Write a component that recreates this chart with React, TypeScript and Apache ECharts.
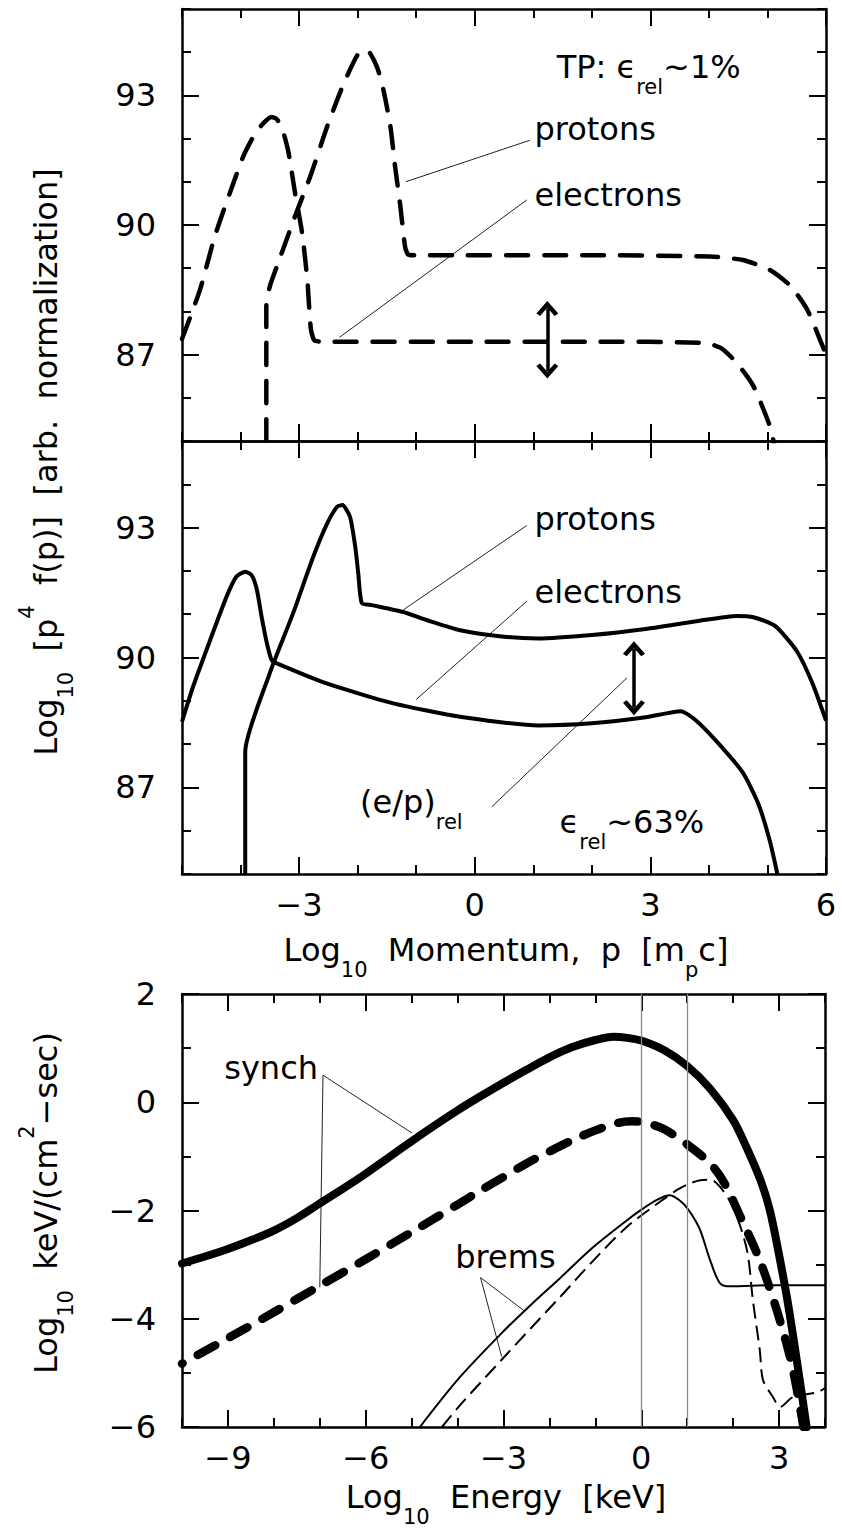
import React, { useEffect, useRef } from "react";
import * as echarts from "echarts";

// ---------------- data ----------------
const momentumRange = [-5, 6];
const fRange = [85, 95];
const energyRange = [-10, 4];
const fluxRange = [-6, 2];
const momentumTicks = [-3, 0, 3, 6];
const fTicks = [87, 90, 93];
const energyTicks = [-9, -6, -3, 0, 3];
const fluxTicks = [-6, -4, -2, 0, 2];

// top panel (TP, dashed)
const tpElectrons = [
  [-5.0, 87.36], [-4.69, 88.51], [-4.44, 89.74], [-4.18, 90.75], [-3.95, 91.6], [-3.75, 92.12],
  [-3.6, 92.37], [-3.47, 92.5], [-3.38, 92.45], [-3.28, 92.2], [-3.18, 91.67], [-3.07, 90.75],
  [-2.95, 89.83], [-2.86, 88.74], [-2.8, 87.6], [-2.74, 87.33], [-2.6, 87.3], [0, 87.3], [2, 87.3],
  [3.93, 87.27], [4.21, 87.15], [4.48, 86.8], [4.76, 86.27], [5.04, 85.35], [5.12, 84.9],
];
const tpProtons = [
  [-3.56, 85.0], [-3.56, 88.12], [-3.5, 88.58], [-3.38, 89.04], [-3.07, 90.2], [-2.81, 91.12],
  [-2.52, 92.28], [-2.26, 93.2], [-2.0, 93.94], [-1.84, 94.05], [-1.67, 93.66], [-1.56, 93.13],
  [-1.44, 92.28], [-1.36, 91.35], [-1.27, 90.43], [-1.19, 89.5], [-1.14, 89.32], [-1.0, 89.3],
  [2, 89.3], [4.02, 89.27], [4.58, 89.19], [5.04, 88.96], [5.4, 88.58], [5.68, 88.04], [6.0, 87.0],
];
// middle panel (solid)
const nlElectrons = [
  [-5.0, 88.52], [-4.81, 89.33], [-4.52, 90.4], [-4.24, 91.4], [-4.07, 91.87], [-3.92, 91.98],
  [-3.81, 91.9], [-3.72, 91.56], [-3.64, 90.94], [-3.55, 90.33], [-3.47, 89.94], [-3.41, 89.88],
  [-2.53, 89.4], [-1.39, 88.94], [-0.25, 88.63], [1.08, 88.43], [2.0, 88.48], [2.92, 88.62],
  [3.52, 88.76], [3.75, 88.58], [4.12, 88.08], [4.58, 87.34], [4.85, 86.6], [5.04, 85.77], [5.17, 85.0],
];
const nlProtons = [
  [-3.92, 85.0], [-3.92, 87.82], [-3.5, 89.64], [-3.1, 91.03], [-2.76, 92.32], [-2.52, 93.1],
  [-2.35, 93.48], [-2.26, 93.52], [-2.13, 93.25], [-2.04, 92.55], [-1.99, 91.95], [-1.93, 91.26],
  [-1.76, 91.21], [-1.22, 91.05], [-0.81, 90.86], [-0.25, 90.63], [0.5, 90.48], [1.08, 90.44],
  [2.0, 90.52], [2.92, 90.66], [3.84, 90.85], [4.48, 90.96], [4.76, 90.93], [5.13, 90.73],
  [5.5, 90.15], [5.77, 89.4], [6.0, 88.54],
];
// bottom panel
const synchSolid = [
  [-10, -2.98], [-9.5, -2.85], [-9.0, -2.71], [-8.5, -2.55], [-8.0, -2.37], [-7.5, -2.14],
  [-7.0, -1.87], [-6.5, -1.6], [-6.0, -1.32], [-5.5, -1.02], [-5.0, -0.72], [-4.5, -0.43],
  [-4.0, -0.15], [-3.5, 0.11], [-3.0, 0.36], [-2.5, 0.6], [-2.0, 0.83], [-1.5, 1.02], [-1.0, 1.15],
  [-0.6, 1.21], [-0.3, 1.19], [0, 1.14], [0.5, 0.96], [1.0, 0.67], [1.5, 0.25], [2.0, -0.33],
  [2.3, -0.85], [2.6, -1.45], [2.8, -2.0], [3.0, -2.82], [3.2, -3.75], [3.4, -4.85], [3.6, -6.0],
];
const synchDashed = [
  [-10, -4.83], [-9.0, -4.36], [-8.0, -3.88], [-7.0, -3.39], [-6.0, -2.9], [-5.0, -2.4],
  [-4.0, -1.89], [-3.5, -1.63], [-3.0, -1.38], [-2.5, -1.13], [-2.0, -0.91], [-1.5, -0.7],
  [-1.0, -0.52], [-0.5, -0.38], [-0.2, -0.35], [0.1, -0.38], [0.5, -0.5], [1.0, -0.78],
  [1.5, -1.13], [1.8, -1.48], [2.15, -2.1], [2.58, -2.92], [2.95, -3.84], [3.24, -4.71],
  [3.39, -5.32], [3.53, -6.0],
];
const bremsSolid = [
  [-4.82, -6], [-3.95, -5.08], [-3.0, -4.23], [-2.4, -3.74], [-1.77, -3.25], [-1.05, -2.68],
  [-0.31, -2.18], [0.01, -1.98], [0.35, -1.8], [0.62, -1.72], [0.91, -1.87], [1.1, -2.08],
  [1.28, -2.36], [1.5, -2.92], [1.71, -3.34], [1.93, -3.4], [2.87, -3.38], [4.0, -3.38],
];
const bremsDashed = [
  [-4.34, -6], [-3.95, -5.6], [-3.0, -4.72], [-2.4, -4.17], [-1.77, -3.6], [-1.05, -2.93],
  [-0.31, -2.3], [0.34, -1.88], [0.78, -1.62], [1.0, -1.52], [1.28, -1.44], [1.5, -1.43],
  [1.71, -1.56], [2.0, -1.94], [2.3, -2.73], [2.43, -3.66], [2.58, -4.58], [2.65, -5.13],
  [2.87, -5.45], [3.02, -5.63], [3.3, -5.45], [3.83, -5.36], [4.0, -5.28],
];
const energyMarkers = [0, 1];

// annotations (data coordinates)
const tpProtonPointer = [[0.94, 91.96], [-1.18, 91.0]];
const tpElectronPointer = [[0.89, 90.58], [-2.31, 87.4]];
const tpArrow = [[1.24, 86.62], [1.24, 88.07]];
const nlProtonPointer = [[0.89, 93.05], [-1.22, 91.1]];
const nlElectronPointer = [[0.89, 91.3], [-1.0, 89.03]];
const nlRatioPointer = [[0.29, 86.55], [2.6, 89.53]];
const nlArrow = [[2.72, 88.84], [2.72, 90.2]];
const synchPointer = [[-4.99, -0.57], [-6.93, 0.5], [-7.0, -3.42]];
const bremsPointer = [[-2.57, -3.84], [-3.5, -3.24], [-3.04, -4.7]];

const tpLabels = [
  { pos: [1.02, 92.23], text: "{a|protons}" },
  { pos: [1.02, 90.69], text: "{a|electrons}" },
  { pos: [1.4, 93.65], text: "{a|TP: ϵ}{s|rel}{a|~1%}" },
];
const nlLabels = [
  { pos: [1.02, 93.2], text: "{a|protons}" },
  { pos: [1.02, 91.51], text: "{a|electrons}" },
  { pos: [-1.96, 86.66], text: "{a|(e/p)}{s|rel}" },
  { pos: [1.45, 86.2], text: "{a|ϵ}{s|rel}{a|~63%}" },
];
const bottomLabels = [
  { pos: [-9.08, 0.63], text: "{a|synch}" },
  { pos: [-4.05, -2.86], text: "{a|brems}" },
];

// ---------------- styling ----------------
const FONT = "'DejaVu Sans', 'Liberation Sans', sans-serif";
const FS = 32;
const SP = "\u00a0\u00a0";
const rich: any = {
  a: { fontSize: FS, lineHeight: 60, fontFamily: FONT, color: "#000", opacity: 1, verticalAlign: "middle" },
  s: { fontSize: 21, lineHeight: 34, fontFamily: FONT, color: "#000", opacity: 1, verticalAlign: "bottom" },
  p: { fontSize: 21, lineHeight: 36, fontFamily: FONT, color: "#000", opacity: 1, verticalAlign: "top" },
};
const minus = (v: number) => String(v).replace("-", "\u2212");

const grids = [
  { left: 182, top: 9, width: 644, height: 432 },
  { left: 182, top: 441, width: 644, height: 433 },
  { left: 182, top: 994, width: 643, height: 433 },
];

function tickStyle(len: number, custom?: number[]) {
  const t: any = { show: true, inside: true, length: len, lineStyle: { color: "#000", width: 2 } };
  if (custom) t.customValues = custom;
  return t;
}

function makeAxes(g: number, range: number[], majors: number[], withLabels: boolean, dim: "x" | "y") {
  const sides = dim === "x" ? ["bottom", "top"] : ["left", "right"];
  const out: any[] = [];
  sides.forEach((side, si) => {
    const label =
      withLabels && si === 0
        ? { show: true, customValues: majors, margin: dim === "x" ? 15 : 26, fontSize: FS, fontFamily: FONT, color: "#000", formatter: minus }
        : { show: false };
    out.push({
      type: "value", gridIndex: g, min: range[0], max: range[1], interval: 1, position: side,
      axisLine: { show: true, onZero: false, lineStyle: { color: "#000", width: 2.5 } },
      axisTick: tickStyle(9), axisLabel: label, splitLine: { show: false }, axisPointer: { show: false },
    });
    out.push({
      type: "value", gridIndex: g, min: range[0], max: range[1], interval: 1, position: side,
      axisLine: { show: false, onZero: false }, axisTick: tickStyle(17, majors),
      axisLabel: { show: false }, splitLine: { show: false },
    });
  });
  return out;
}

function line(g: number, data: number[][], width: number, type: any, cap = "butt", z = 3, color = "#000", smooth: any = 0.2, dashOffset = 0): any {
  return {
    type: "line", xAxisIndex: g * 4, yAxisIndex: g * 4, data, showSymbol: false, symbol: "none",
    smooth, silent: true, z,
    lineStyle: { color, width, type, cap, join: "round", dashOffset },
  };
}
function pointer(g: number, data: number[][]): any {
  return line(g, data, 1, "solid", "butt", 2, "#222", false);
}

const chevron = "path://M10,0 L20,12.5 L16.6,15 L10,6.8 L3.4,15 L0,12.5 Z";
function arrow(g: number, pts: number[][]): any {
  return {
    type: "line", xAxisIndex: g * 4, yAxisIndex: g * 4, data: [], silent: true,
    markLine: {
      silent: true, symbol: [chevron, chevron], symbolSize: [22, 15], animation: false,
      lineStyle: { color: "#000", width: 3.5, type: "solid" }, label: { show: false },
      data: [[{ coord: pts[0] }, { coord: pts[1] }]],
    },
  };
}

function labels(g: number, items: { pos: number[]; text: string }[]): any {
  return {
    type: "scatter", xAxisIndex: g * 4, yAxisIndex: g * 4, symbolSize: 0, silent: true, z: 5,
    itemStyle: { color: "#000", opacity: 1 },
    label: { show: true, position: "right", distance: 0, rich, fontSize: FS, fontFamily: FONT, color: "#000", opacity: 1, lineHeight: 60 },
    data: items.map((it) => ({ value: it.pos, label: { formatter: it.text } })),
  };
}

export default function App() {
  const ref = useRef<HTMLDivElement>(null);
  useEffect(() => {
    if (!ref.current) return;
    const chart = echarts.init(ref.current, undefined, { renderer: "svg" });
    const xAxis = [
      ...makeAxes(0, momentumRange, momentumTicks, false, "x"),
      ...makeAxes(1, momentumRange, momentumTicks, true, "x"),
      ...makeAxes(2, energyRange, energyTicks, true, "x"),
    ];
    const yAxis = [
      ...makeAxes(0, fRange, fTicks, true, "y"),
      ...makeAxes(1, fRange, fTicks, true, "y"),
      ...makeAxes(2, fluxRange, fluxTicks, true, "y"),
    ];
    const series: any[] = [
      line(0, tpElectrons, 4.5, [22, 16], "round"),
      line(0, tpProtons, 4.5, [22, 16], "round"),
      pointer(0, tpProtonPointer),
      pointer(0, tpElectronPointer),
      arrow(0, tpArrow),
      labels(0, tpLabels),
      line(1, nlElectrons, 4, "solid"),
      line(1, nlProtons, 4, "solid"),
      pointer(1, nlProtonPointer),
      pointer(1, nlElectronPointer),
      pointer(1, nlRatioPointer),
      arrow(1, nlArrow),
      labels(1, nlLabels),
      {
        type: "line", xAxisIndex: 8, yAxisIndex: 8, data: [], silent: true,
        markLine: {
          silent: true, symbol: ["none", "none"], animation: false, label: { show: false },
          lineStyle: { color: "#8a8a8a", width: 1.3, type: "solid" },
          data: energyMarkers.map((v) => ({ xAxis: v })),
        },
      },
      line(2, synchSolid, 8, "solid", "round", 4, "#000", 0.3),
      line(2, synchDashed, 8.5, [20, 17], "round", 4, "#000", 0.3, 19),
      line(2, bremsSolid, 2, "solid", "butt", 3, "#000", 0.3),
      line(2, bremsDashed, 2, [15, 7], "butt", 3, "#000", 0.3),
      pointer(2, synchPointer),
      pointer(2, bremsPointer),
      labels(2, bottomLabels),
    ];
    chart.setOption({
      animation: false,
      backgroundColor: "#fff",
      grid: grids.map((g) => ({ ...g, containLabel: false, outerBoundsMode: "none" })),
      xAxis,
      yAxis,
      series,
      graphic: [
        {
          type: "text", x: 46, y: 462, rotation: Math.PI / 2,
          style: { text: `{a|Log}{s|10}{a|${SP}[p}{p|4}{a|${SP}f(p)]${SP}[arb.${SP}normalization]}`, rich, align: "center", verticalAlign: "middle" },
        },
        {
          type: "text", x: 46, y: 1203, rotation: Math.PI / 2,
          style: { text: `{a|Log}{s|10}{a|${SP}keV/(cm}{p|2}{a|\u2212sec)}`, rich, align: "center", verticalAlign: "middle" },
        },
        {
          type: "text", x: 506, y: 950,
          style: { text: `{a|Log}{s|10}{a|${SP}Momentum,${SP}p${SP}[m}{s|p}{a|c]}`, rich, align: "center", verticalAlign: "middle" },
        },
        {
          type: "text", x: 506, y: 1497,
          style: { text: `{a|Log}{s|10}{a|${SP}Energy${SP}[keV]}`, rich, align: "center", verticalAlign: "middle" },
        },
      ],
    });
    return () => chart.dispose();
  }, []);
  return <div ref={ref} style={{ position: "absolute", left: 0, top: 0, width: 842, height: 1528, background: "#fff" }} />;
}
